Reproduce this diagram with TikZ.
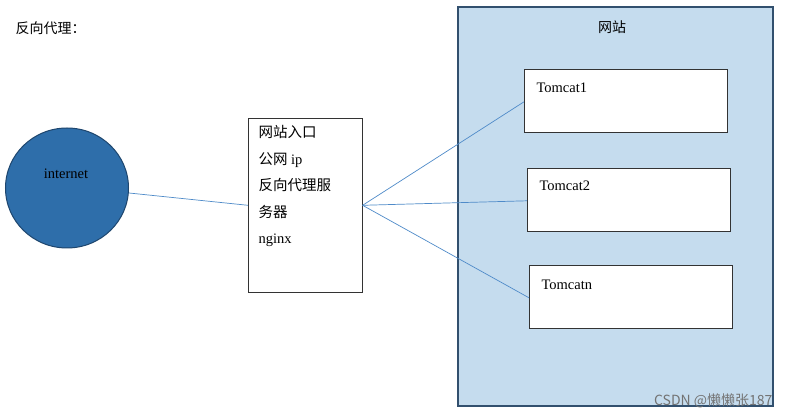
\documentclass[tikz,border=0pt]{standalone}
\usepackage{fontspec}
\setmainfont{Liberation Serif}
\newfontfamily\cjk{Noto Sans CJK SC}
\usetikzlibrary{shapes.geometric}
\begin{document}
\begin{tikzpicture}[x=1pt,y=-1pt,
  tbox/.style={draw=black!80,fill=white,line width=0.6pt,minimum width=203pt,minimum height=63pt,anchor=north west},
  tlab/.style={anchor=west,font=\fontsize{14.5}{16}\selectfont},
  link/.style={draw={rgb,255:red,79;green,139;blue,201},line width=0.7pt}]
\useasboundingbox (0,0) rectangle (787,419);
\fill[white] (0,0) rectangle (787,419);
\node[anchor=west,font=\cjk\fontsize{14}{16}\selectfont] (title) at (12,28) {反向代理：};
\node[draw={rgb,255:red,50;green,80;blue,110},line width=1.6pt,fill={rgb,255:red,197;green,220;blue,238},minimum width=315pt,minimum height=399pt,anchor=north west] (site) at (457,6) {};
\node[font=\cjk\fontsize{14}{16}\selectfont] (sitelab) at (612,27) {网站};
\node[ellipse,draw={rgb,255:red,30;green,70;blue,110},line width=1pt,fill={rgb,255:red,46;green,110;blue,170},minimum width=123pt,minimum height=120pt] (net) at (67,188) {};
\node[font=\fontsize{14.5}{16}\selectfont] (netlab) at (66,174) {internet};
\node[draw=black!80,line width=0.6pt,fill=white,minimum width=114pt,minimum height=174pt,anchor=north west] (gw) at (248,118) {};
\node[anchor=north west,align=left,font=\fontsize{14.5}{26.5}\selectfont] (gwlab) at (255,122) {{\cjk 网站入口}\\{\cjk 公网} ip\\{\cjk 反向代理服}\\{\cjk 务器}\\nginx};
\node[tbox] (t1) at (524,69) {};
\node[tlab] (t1l) at (533,88) {Tomcat1};
\node[tbox] (t2) at (527,168) {};
\node[tlab] (t2l) at (536,186) {Tomcat2};
\node[tbox] (t3) at (529,265) {};
\node[tlab] (t3l) at (538,285) {Tomcatn};
\draw[link] (net.east) ++(0,5) -- (gw.west);
\draw[link] (gw.east) -- ([yshift=-1pt]t1.west);
\draw[link] (gw.east) -- ([yshift=-1pt]t2.west);
\draw[link] (gw.east) -- ([yshift=-1pt]t3.west);
\node[anchor=east,text=black!55,font=\cjk\fontsize{14}{16}\selectfont] (wm) at (776,401) {CSDN @懒懒张187};
\end{tikzpicture}
\end{document}
